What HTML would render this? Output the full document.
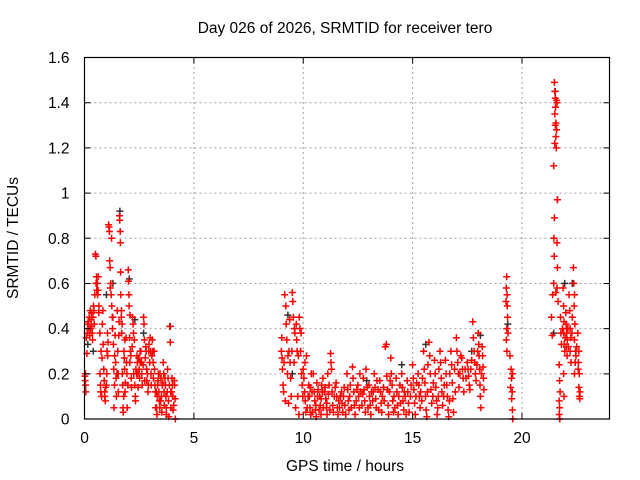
<!DOCTYPE html>
<html><head><meta charset="utf-8"><style>
html,body{margin:0;padding:0;background:#fff;}
svg{display:block;font-family:"Liberation Sans",sans-serif;}
</style></head><body>
<svg id="chart" width="640" height="480" viewBox="0 0 640 480" xmlns="http://www.w3.org/2000/svg">
<rect x="0" y="0" width="640" height="480" fill="#fff"/>
<text x="345" y="33" font-size="15.5" text-anchor="middle" fill="#000">Day 026 of 2026, SRMTID for receiver tero</text>
<g id="grid"></g>
<g id="marks"></g>
<g id="axes"></g>
<text x="345" y="471" font-size="15.5" text-anchor="middle" fill="#000">GPS time / hours</text>
<text x="18" y="238" font-size="15.5" text-anchor="middle" fill="#000" transform="rotate(-90 18 238)">SRMTID / TECUs</text>
</svg>
<script>
const xTicks = [0, 5, 10, 15, 20];
const yTicks = [0, 0.2, 0.4, 0.6, 0.8, 1, 1.2, 1.4, 1.6];
const yTickLabels = ["0", "0.2", "0.4", "0.6", "0.8", "1", "1.2", "1.4", "1.6"];
const blackPoints = [[1.62,0.92],[0.4,0.3],[1.0,0.55],[2.05,0.62],[21.62,0.97],[21.52,1.45],[3.92,0.41],[21.45,0.38],[9.5,0.2],[17.7,0.3],[0.15,0.33],[2.3,0.44],[15.6,0.33],[9.3,0.46],[22.3,0.6],[14.5,0.24],[12.9,0.17],[18.1,0.37],[19.35,0.42],[21.95,0.6],[2.7,0.38],[1.3,0.6]];
const redPoints = [
[0.02,0.19],[0.03,0.17],[0.05,0.15],[0.06,0.12],[0.04,0.2],[0.11,0.29],[0.13,0.38],[0.14,0.42],[0.2,0.4],[0.22,0.45],[0.24,0.37],[0.26,0.48],[0.3,0.44],[0.32,0.47],[0.33,0.41],[0.35,0.38],[0.37,0.35],[0.41,0.5],[0.43,0.48],[0.45,0.42],[0.5,0.73],[0.52,0.72],[0.53,0.6],[0.55,0.63],[0.56,0.57],[0.6,0.55],[0.62,0.57],[0.63,0.63],[0.65,0.47],[0.7,0.38],[0.71,0.2],[0.73,0.15],[0.74,0.12],[0.76,0.3],[0.8,0.27],[0.82,0.42],[0.84,0.48],[0.85,0.33],[0.9,0.17],[0.92,0.12],[0.93,0.1],[0.95,0.08],[1.0,0.15],[1.02,0.2],[1.03,0.3],[1.05,0.38],[1.06,0.28],[1.1,0.86],[1.12,0.85],[1.14,0.83],[1.15,0.7],[1.17,0.67],[1.2,0.6],[1.22,0.55],[1.24,0.8],[1.25,0.5],[1.27,0.45],[1.3,0.45],[1.32,0.33],[1.34,0.22],[1.35,0.05],[1.37,0.15],[1.4,0.37],[1.42,0.25],[1.44,0.18],[1.46,0.1],[1.5,0.48],[1.52,0.3],[1.54,0.2],[1.55,0.12],[1.57,0.37],[1.6,0.9],[1.61,0.88],[1.63,0.83],[1.64,0.78],[1.65,0.65],[1.66,0.55],[1.68,0.45],[1.69,0.48],[1.72,0.42],[1.73,0.2],[1.74,0.15],[1.76,0.05],[1.77,0.03],[1.79,0.1],[1.8,0.3],[1.82,0.27],[1.84,0.35],[1.85,0.12],[1.87,0.16],[1.9,0.36],[1.92,0.25],[1.94,0.2],[1.95,0.05],[2.0,0.66],[2.01,0.61],[2.03,0.55],[2.04,0.5],[2.06,0.36],[2.07,0.25],[2.1,0.3],[2.12,0.28],[2.14,0.18],[2.15,0.14],[2.2,0.45],[2.22,0.42],[2.24,0.38],[2.25,0.2],[2.3,0.15],[2.32,0.1],[2.33,0.08],[2.35,0.22],[2.4,0.28],[2.42,0.25],[2.44,0.2],[2.45,0.14],[2.5,0.22],[2.52,0.18],[2.54,0.3],[2.55,0.25],[2.6,0.25],[2.62,0.2],[2.64,0.15],[2.7,0.45],[2.72,0.42],[2.74,0.35],[2.75,0.17],[2.8,0.32],[2.82,0.3],[2.84,0.22],[2.85,0.17],[2.9,0.12],[2.92,0.15],[2.94,0.3],[2.95,0.33],[3.0,0.36],[3.02,0.3],[3.04,0.2],[3.05,0.15],[3.1,0.35],[3.12,0.3],[3.14,0.25],[3.15,0.18],[3.2,0.22],[3.22,0.15],[3.24,0.12],[3.25,0.05],[3.3,0.05],[3.31,0.02],[3.33,0.1],[3.34,0.15],[3.36,0.17],[3.4,0.12],[3.42,0.08],[3.44,0.05],[3.45,0.2],[3.5,0.18],[3.52,0.1],[3.54,0.03],[3.55,0.15],[3.6,0.25],[3.62,0.2],[3.64,0.12],[3.65,0.06],[3.7,0.15],[3.72,0.1],[3.74,0.05],[3.75,0.02],[3.8,0.22],[3.82,0.18],[3.84,0.08],[3.85,0.01],[3.9,0.41],[3.92,0.34],[3.94,0.12],[3.95,0.05],[4.0,0.18],[4.02,0.15],[4.04,0.1],[4.05,0.04],[4.1,0.17],[4.12,0.15],[4.14,0.09],[4.15,0.0],
[9.0,0.3],[9.03,0.27],[9.05,0.22],[9.08,0.15],[9.1,0.12],[9.15,0.55],[9.2,0.5],[9.22,0.42],[9.25,0.35],[9.3,0.28],[9.33,0.07],[9.35,0.3],[9.4,0.25],[9.42,0.18],[9.45,0.1],[9.5,0.56],[9.52,0.52],[9.55,0.45],[9.6,0.4],[9.62,0.38],[9.65,0.05],[9.7,0.35],[9.72,0.3],[9.75,0.1],[9.8,0.02],[9.82,0.45],[9.85,0.4],[9.9,0.38],[9.92,0.2],[9.95,0.15],[10.0,0.22],[10.03,0.18],[10.06,0.12],[10.09,0.08],[10.12,0.03],[10.15,0.28],[10.25,0.15],[10.28,0.1],[10.31,0.05],[10.34,0.02],[10.37,0.2],[10.4,0.12],[10.5,0.12],[10.53,0.08],[10.56,0.04],[10.59,0.01],[10.62,0.16],[10.65,0.1],[10.75,0.1],[10.78,0.06],[10.81,0.02],[10.84,0.15],[10.87,0.12],[10.9,0.18],[11.0,0.14],[11.03,0.09],[11.06,0.05],[11.09,0.02],[11.12,0.2],[11.15,0.11],[11.25,0.29],[11.27,0.25],[11.29,0.22],[11.32,0.12],[11.35,0.06],[11.38,0.03],[11.5,0.16],[11.53,0.1],[11.56,0.05],[11.59,0.02],[11.62,0.08],[11.75,0.12],[11.78,0.07],[11.81,0.03],[11.84,0.1],[11.87,0.14],[12.0,0.2],[12.03,0.13],[12.06,0.08],[12.09,0.04],[12.12,0.1],[12.25,0.23],[12.28,0.18],[12.31,0.12],[12.34,0.06],[12.37,0.02],[12.5,0.15],[12.53,0.1],[12.56,0.05],[12.59,0.2],[12.62,0.12],[12.75,0.18],[12.78,0.13],[12.81,0.08],[12.84,0.03],[12.87,0.22],[13.0,0.15],[13.03,0.1],[13.06,0.06],[13.09,0.02],[13.12,0.12],[13.25,0.2],[13.28,0.14],[13.31,0.09],[13.34,0.05],[13.37,0.17],[13.5,0.17],[13.53,0.12],[13.56,0.07],[13.59,0.03],[13.62,0.1],[13.75,0.32],[13.8,0.33],[13.82,0.19],[13.85,0.13],[13.88,0.06],[13.9,0.02],[14.0,0.27],[14.03,0.2],[14.06,0.15],[14.09,0.08],[14.12,0.03],[14.25,0.18],[14.28,0.12],[14.31,0.06],[14.34,0.02],[14.37,0.1],[14.5,0.2],[14.53,0.14],[14.56,0.08],[14.59,0.04],[14.62,0.12],[14.75,0.17],[14.78,0.12],[14.81,0.07],[14.84,0.03],[15.0,0.24],[15.03,0.18],[15.06,0.13],[15.09,0.07],[15.12,0.02],[15.25,0.2],[15.28,0.15],[15.31,0.1],[15.34,0.05],[15.37,0.12],[15.5,0.3],[15.53,0.22],[15.56,0.16],[15.59,0.1],[15.62,0.04],[15.65,0.01],[15.75,0.34],[15.78,0.28],[15.81,0.2],[15.84,0.13],[15.87,0.07],[16.0,0.26],[16.03,0.2],[16.06,0.14],[16.09,0.08],[16.12,0.02],[16.15,0.05],[16.25,0.3],[16.28,0.25],[16.31,0.18],[16.34,0.12],[16.37,0.06],[16.5,0.26],[16.53,0.2],[16.56,0.15],[16.59,0.1],[16.62,0.04],[16.65,0.01],[16.75,0.3],[16.78,0.24],[16.81,0.16],[16.84,0.09],[16.87,0.03],[17.0,0.36],[17.03,0.3],[17.06,0.25],[17.09,0.2],[17.12,0.14],[17.25,0.27],[17.28,0.22],[17.31,0.18],[17.34,0.12],[17.5,0.25],[17.53,0.22],[17.56,0.19],[17.59,0.15],[17.62,0.13],[17.75,0.43],[17.78,0.36],[17.81,0.3],[17.84,0.25],[17.87,0.2],[17.9,0.17],[18.0,0.38],[18.02,0.33],[18.04,0.28],[18.06,0.22],[18.08,0.15],[18.1,0.1],[18.12,0.05],[18.2,0.28],[18.22,0.23],[18.24,0.18],[18.26,0.13],
[19.28,0.58],[19.3,0.63],[19.32,0.55],[19.33,0.5],[19.34,0.45],[19.3,0.4],[19.28,0.35],[19.31,0.3],[19.45,0.28],[19.5,0.22],[19.52,0.18],[19.55,0.12],[19.53,0.09],[19.56,0.04],[19.58,0.0],
[21.35,0.45],[21.38,0.37],[21.4,0.55],[21.48,1.49],[21.5,1.45],[21.52,1.42],[21.5,1.35],[21.52,1.3],[21.55,1.25],[21.5,1.22],[21.45,1.12],[21.48,0.89],[21.46,0.8],[21.47,0.72],[21.45,0.6],[21.58,1.41],[21.6,1.4],[21.55,1.31],[21.58,1.28],[21.62,0.97],[21.6,0.78],[21.62,0.67],[21.6,0.58],[21.55,0.56],[21.7,0.24],[21.72,0.17],[21.74,0.12],[21.7,0.08],[21.72,0.05],[21.7,0.02],[21.73,0.0],[21.76,0.45],[21.78,0.38],[21.8,0.33],[21.88,0.58],[21.9,0.5],[21.92,0.43],[21.9,0.38],[21.93,0.33],[21.95,0.3],[21.9,0.2],[21.92,0.1],[22.0,0.47],[22.02,0.42],[22.04,0.4],[22.05,0.38],[22.07,0.35],[22.03,0.32],[22.06,0.28],[22.15,0.55],[22.18,0.48],[22.2,0.4],[22.22,0.36],[22.2,0.3],[22.24,0.25],[22.35,0.67],[22.37,0.6],[22.4,0.55],[22.38,0.5],[22.42,0.42],[22.4,0.35],[22.45,0.3],[22.43,0.25],[22.4,0.2],[22.55,0.38],[22.6,0.3],[22.58,0.25],[22.62,0.2],[22.6,0.14],[22.65,0.12],[22.62,0.1],[22.64,0.09]
];
const redExtraPoints = [
[0.08,0.36],[0.17,0.43],[0.28,0.4],[0.39,0.45],[0.47,0.55],[0.58,0.6],[0.66,0.5],[0.78,0.1],[0.88,0.22],[0.97,0.14],[1.08,0.34],[1.18,0.58],[1.28,0.4],[1.38,0.28],[1.48,0.2],[1.58,0.43],[1.7,0.38],[1.83,0.22],[1.98,0.15],[2.08,0.46],[2.18,0.32],[2.28,0.35],[2.38,0.2],[2.48,0.27],[2.58,0.3],[2.68,0.24],[2.78,0.27],[2.88,0.2],[2.98,0.25],[3.08,0.28],[3.18,0.3],[3.28,0.12],[3.38,0.2],[3.48,0.08],[3.58,0.16],[3.68,0.18],[3.78,0.12],[3.88,0.15],[3.98,0.12],[4.08,0.06],
[9.02,0.36],[9.12,0.25],[9.18,0.08],[9.28,0.2],[9.38,0.44],[9.48,0.3],[9.58,0.25],[9.68,0.42],[9.78,0.28],[9.88,0.3],[9.98,0.1],[10.08,0.25],[10.18,0.05],[10.22,0.1],[10.32,0.14],[10.42,0.03],[10.46,0.2],[10.58,0.06],[10.68,0.13],[10.72,0.04],[10.82,0.09],[10.92,0.05],[10.96,0.12],[11.08,0.07],[11.18,0.15],[11.22,0.04],[11.42,0.1],[11.46,0.14],[11.66,0.05],[11.7,0.1],[11.9,0.06],[11.94,0.02],[12.15,0.15],[12.19,0.05],[12.42,0.08],[12.45,0.13],[12.68,0.06],[12.72,0.11],[12.92,0.14],[12.96,0.05],[13.17,0.08],[13.2,0.12],[13.42,0.13],[13.45,0.04],[13.67,0.14],[13.7,0.08],[13.94,0.12],[13.97,0.17],[14.15,0.1],[14.19,0.05],[14.42,0.15],[14.45,0.07],[14.66,0.1],[14.7,0.02],[14.9,0.1],[14.93,0.15],[15.15,0.1],[15.18,0.16],[15.42,0.08],[15.45,0.18],[15.68,0.12],[15.7,0.24],[15.92,0.1],[15.95,0.16],[16.18,0.1],[16.2,0.22],[16.42,0.1],[16.45,0.15],[16.68,0.08],[16.7,0.2],[16.92,0.22],[16.95,0.12],[17.16,0.2],[17.2,0.28],[17.4,0.22],[17.44,0.18],[17.66,0.22],[17.7,0.26],[17.94,0.24],[17.97,0.3],[18.15,0.2],[18.18,0.32],
[19.27,0.52],[19.36,0.38],[19.48,0.14],[19.57,0.2],
[21.53,1.38],[21.57,1.2],[21.65,0.52],[21.85,0.4],[21.98,0.36],[22.1,0.4],[22.12,0.32],[22.28,0.38],[22.3,0.45],[22.47,0.28],[22.5,0.32],[22.57,0.22]
];
const X0 = 84.5, X1 = 609.5, Y0 = 419, Y1 = 57.5;
const xMax = 24, yMax = 1.6;
function sx(v){ return X0 + (X1 - X0) * v / xMax; }
function sy(v){ return Y0 - (Y0 - Y1) * v / yMax; }
const NS = "http://www.w3.org/2000/svg";
function mk(tag, attrs, parent){ const e = document.createElementNS(NS, tag); for (const k in attrs) e.setAttribute(k, attrs[k]); parent.appendChild(e); return e; }
const grid = document.getElementById('grid');
const axes = document.getElementById('axes');
const marks = document.getElementById('marks');
xTicks.forEach(function(t){
  const x = sx(t);
  if (t > 0) {
    const g = mk('line', {x1:x, y1:Y0, x2:x, y2:Y1, stroke:'#a0a0a0', 'stroke-width':1, 'stroke-dasharray':'2,3'}, grid);
    
    
  }
  const tk = mk('path', {d:'M'+x+' '+Y0+'v-6M'+x+' '+Y1+'v6', stroke:'#000', 'stroke-width':1}, axes);
  
  
  const lb = mk('text', {x:x, y:Y0+24, 'font-size':15.5, 'text-anchor':'middle', fill:'#000'}, axes);
  lb.textContent = String(t);
  
  
});
yTicks.forEach(function(t, i){
  const y = sy(t);
  if (t > 0 && t < yMax) {
    const g = mk('line', {x1:X0, y1:y, x2:X1, y2:y, stroke:'#a0a0a0', 'stroke-width':1, 'stroke-dasharray':'2,3'}, grid);
    
    
  }
  const tk = mk('path', {d:'M'+X0+' '+y+'h6M'+X1+' '+y+'h-6', stroke:'#000', 'stroke-width':1}, axes);
  
  
  const lb = mk('text', {x:X0-15, y:y+5.5, 'font-size':15.5, 'text-anchor':'end', fill:'#000'}, axes);
  lb.textContent = yTickLabels[i];
  
  
});
const frame = mk('rect', {x:X0, y:Y1, width:X1-X0, height:Y0-Y1, fill:'none', stroke:'#000', 'stroke-width':1.2}, axes);


function plus(p, color){
  const x = sx(p[0]), y = sy(p[1]);
  const m = mk('path', {d:'M'+(x-3.5).toFixed(1)+' '+y.toFixed(1)+'h7M'+x.toFixed(1)+' '+(y-3.5).toFixed(1)+'v7', stroke:color, 'stroke-width':1.5}, marks);
  return m;
}
blackPoints.forEach(function(p){
  const m = plus(p, '#303030');
  
  
});
redPoints.concat(redExtraPoints).forEach(function(p){
  const m = plus(p, '#ff0000');
  
  
});
</script>
</body></html>
